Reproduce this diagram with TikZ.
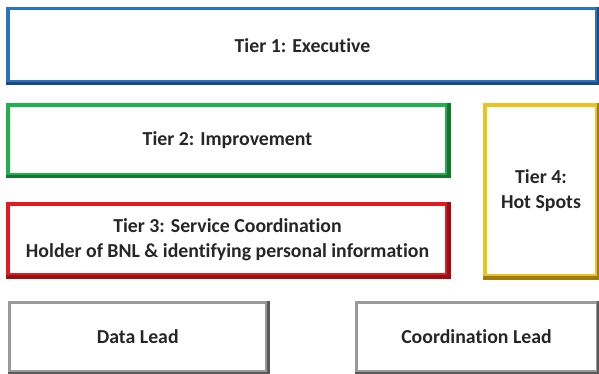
\documentclass[tikz,border=0pt]{standalone}
\usepackage{fontspec}
\setmainfont{Carlito}[Ligatures=NoCommon]
\usetikzlibrary{positioning}
\definecolor{tierblue}{HTML}{2B72C4}
\definecolor{tiergreen}{HTML}{1FB24A}
\definecolor{tierred}{HTML}{E51A1F}
\definecolor{tiergold}{HTML}{EEC21C}
\definecolor{leadgray}{HTML}{9A9A9A}

\tikzset{
  tierbox/.style={draw, line width=3.5pt, inner sep=0pt, align=center},
  leadbox/.style={tierbox, line width=3pt, draw=leadgray}
}

\begin{document}
\begin{tikzpicture}[x=1pt, y=-1pt, every node/.style={font=\fontsize{19.8}{25}\selectfont\bfseries, text=black!85}]
    \useasboundingbox (0,0) rectangle (599,374);
    % the four tiers
    \node[tierbox, draw=tierblue, minimum width=589pt, minimum height=73.5pt] (exec) at (302.5,45.25) {Tier 1: Executive};
    \node[tierbox, draw=tiergreen, minimum width=439pt, minimum height=70pt] (improve) at (227.5,140) {Tier 2: Improvement};
    \node[tierbox, draw=tierred, minimum width=439pt, minimum height=71pt] (coord) at (227.5,239.5) {Tier 3: Service Coordination\\Holder of BNL \& identifying personal information};
    \node[tierbox, draw=tiergold, minimum width=112pt, minimum height=171pt] (hotspots) at (541,190.5) {Tier 4:\\Hot Spots};
    % leads
    \node[leadbox, minimum width=257.5pt, minimum height=69pt] (datalead) at (137.75,337) {Data Lead};
    \node[leadbox, minimum width=241pt, minimum height=69pt] (coordlead) at (476.5,337) {Coordination Lead};
    % darker lower and right edges
    \foreach \n/\c in {exec/tierblue, improve/tiergreen, coord/tierred, hotspots/tiergold}
      \draw[\c!65!black, line width=3.5pt] (\n.north east) -- (\n.south east) -- (\n.south west);
    \foreach \n in {datalead, coordlead}
      \draw[black!65, line width=3pt] (\n.north east) -- (\n.south east) -- (\n.south west);
\end{tikzpicture}
\end{document}
